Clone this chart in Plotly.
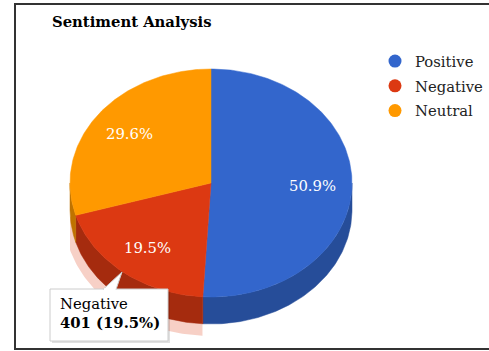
import numpy as np
import plotly.graph_objects as go

# ---- data ----
labels = ["Positive", "Negative", "Neutral"]
values = [1047, 401, 608]
colors = ["#3366CC", "#DC3912", "#FF9900"]
side_colors = ["#264D99", "#A52B0E", "#BF7300"]
title_text = "Sentiment Analysis"
hovered = 1  # index of slice with tooltip

# ---- geometry / style ----
W, H = 489, 351
CX, CY, RX, RY, DEPTH = 211, 183, 141, 114, 27
HALO = 6
FONT = "DejaVu Serif"
FS = 14.8

total = sum(values)
fracs = [v / total for v in values]
starts = np.cumsum([0] + fracs[:-1]) * 360
ends = np.cumsum(fracs) * 360


def pt(theta, rx=RX, ry=RY, dy=0.0):
    t = np.radians(theta)
    return CX + rx * np.sin(t), CY - ry * np.cos(t) + dy


def arc(a0, a1, rx=RX, ry=RY, dy=0.0):
    th = np.linspace(a0, a1, max(int(abs(a1 - a0)) + 2, 4))
    xs, ys = pt(th, rx, ry, dy)
    return list(xs), list(ys)


fig = go.Figure()

# halo around hovered slice
a0, a1 = starts[hovered], ends[hovered]
tx, ty = arc(a0, a1, RX + HALO, RY + HALO)
lo, hi = max(a0, 90), min(a1, 270)
bx, by = arc(lo, hi, RX + HALO, RY + HALO, DEPTH + HALO)
hx = [CX] + tx[:1] + bx + tx[-1:] + [CX]
hy = [CY] + ty[:1] + by + ty[-1:] + [CY]
fig.add_trace(go.Scatter(x=hx, y=hy, fill="toself", mode="lines",
                         line=dict(width=0), fillcolor="rgba(220,57,18,0.24)",
                         hoverinfo="skip", showlegend=False))

# sides (visible lower half 90..270 deg)
for i in range(len(values)):
    lo, hi = max(starts[i], 90), min(ends[i], 270)
    if hi <= lo:
        continue
    ux, uy = arc(lo, hi)
    dx, dy = arc(hi, lo, dy=DEPTH)
    fig.add_trace(go.Scatter(x=ux + dx + ux[:1], y=uy + dy + uy[:1], fill="toself",
                             mode="lines", line=dict(width=0.5, color=side_colors[i]),
                             fillcolor=side_colors[i], hoverinfo="skip", showlegend=False))

# top faces
for i in range(len(values)):
    ax, ay = arc(starts[i], ends[i])
    fig.add_trace(go.Scatter(x=[CX] + ax + [CX], y=[CY] + ay + [CY], fill="toself",
                             mode="lines", line=dict(width=0.5, color=colors[i]),
                             fillcolor=colors[i], hoverinfo="skip", showlegend=False))

# percentage labels
for i in range(len(values)):
    mid = (starts[i] + ends[i]) / 2
    lx, ly = pt(mid, RX * 0.72, RY * 0.72)
    fig.add_annotation(x=lx, y=ly, text=f"{fracs[i]*100:.1f}%", showarrow=False,
                       font=dict(family=FONT, size=FS, color="white"),
                       xanchor="center", yanchor="middle")

# legend entries
for i in range(len(values)):
    fig.add_trace(go.Scatter(x=[None], y=[None], mode="markers", name=labels[i],
                             legendgroup=labels[i],
                             marker=dict(color=colors[i], size=13, symbol="circle")))

# tooltip + frame
shapes = [
    dict(type="rect", x0=15, x1=W + 5, y0=4, y1=349, line=dict(color="#333333", width=2),
         fillcolor="rgba(0,0,0,0)", layer="below"),
    dict(type="rect", x0=52, x1=170, y0=291, y1=343, line=dict(width=0),
         fillcolor="rgba(0,0,0,0.12)"),
    dict(type="rect", x0=50, x1=168, y0=289, y1=341, line=dict(color="#CCCCCC", width=1),
         fillcolor="white"),
    dict(type="path", path="M 103 289.5 L 122 272 L 116 289.5", line=dict(color="#CCCCCC", width=1),
         fillcolor="white"),
    dict(type="rect", x0=104, x1=115.4, y0=288.3, y1=290.5, line=dict(width=0), fillcolor="white"),
]
fig.add_annotation(x=58, y=303, text=labels[hovered], showarrow=False, xanchor="left",
                   yanchor="middle", font=dict(family=FONT, size=FS, color="#000000"))
fig.add_annotation(x=58, y=322, text=f"<b>{values[hovered]} ({fracs[hovered]*100:.1f}%)</b>",
                   showarrow=False, xanchor="left", yanchor="middle",
                   font=dict(family=FONT, size=FS, color="#000000"))

fig.update_layout(
    width=W, height=H, margin=dict(l=0, r=0, t=0, b=0, autoexpand=False),
    paper_bgcolor="white", plot_bgcolor="white",
    xaxis=dict(range=[0, W], visible=False, fixedrange=True),
    yaxis=dict(range=[H, 0], visible=False, fixedrange=True),
    shapes=shapes,
    title=dict(text=f"<b>{title_text}</b>", x=52 / W, xanchor="left", y=1 - 22 / H,
               yanchor="middle", font=dict(family=FONT, size=FS, color="#000000")),
    legend=dict(x=375 / W, y=1 - 45 / H, xanchor="left", yanchor="top",
                font=dict(family=FONT, size=FS, color="#222222"),
                tracegroupgap=2.5, bgcolor="rgba(0,0,0,0)", itemwidth=30),
    showlegend=True,
)

fig.write_html("out.html")
